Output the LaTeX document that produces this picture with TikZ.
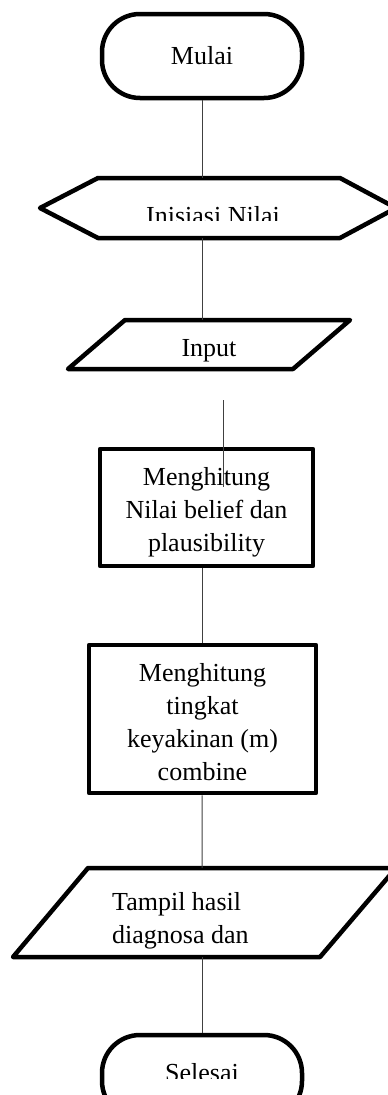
\documentclass[tikz,border=0pt]{standalone}
\usepackage{fontspec}
\setmainfont{Liberation Serif}
\usetikzlibrary{positioning}

\begin{document}
\begin{tikzpicture}[x=1pt,y=-1pt,
  term/.style={rectangle,rounded corners=38pt,draw,line width=4.5pt,minimum width=200pt,minimum height=84pt,inner sep=0pt,font=\fontsize{26}{33}\selectfont},
  proc/.style={rectangle,draw,line width=4.5pt,line join=round,align=center,inner sep=0pt,font=\fontsize{26}{33}\selectfont},
  iobox/.style={draw,line width=4.5pt,line join=round},
  txt/.style={inner sep=0pt,font=\fontsize{26}{33}\selectfont},
  link/.style={draw=black!75,line width=1pt}
]
\useasboundingbox (0,0) rectangle (388,1095);

% start
\node[term] (mulai) at (202,56) {Mulai};

% preparation
\draw[iobox] (40,208) -- (98,178) -- (340,178) -- (396,208) -- (340,238) -- (98,238) -- cycle;
\coordinate (init-n) at (202,178);
\coordinate (init-s) at (202,238);
\begin{scope}
  \clip (0,0) rectangle (388,220);
  \node[txt,anchor=base] (init) at (213,224) {Inisiasi Nilai};
\end{scope}

% input
\draw[iobox] (125,320) -- (350,320) -- (293,369) -- (68,369) -- cycle;
\coordinate (input-n) at (202,320);
\node[txt,anchor=base] (input) at (209,356) {Input};

% process
\coordinate (stub-a) at (223,400);
\coordinate (stub-b) at (223,487);
\node[proc,minimum width=213pt,minimum height=117pt] (belief) at (206.5,507.5) {\rule{0pt}{28pt}Menghitung\\Nilai belief dan\\plausibility};
\node[proc,minimum width=227pt,minimum height=148pt] (combine) at (202.5,719) {\rule{0pt}{25pt}Menghitung\\tingkat\\keyakinan (m)\\combine};

% output
\draw[iobox] (88,868) -- (396,868) -- (320,957) -- (13,957) -- cycle;
\coordinate (hasil-n) at (202,868);
\coordinate (hasil-s) at (202,957);
\node[txt,align=left,anchor=north west] (hasil) at (112,892) {Tampil hasil\\diagnosa dan};

% end
\node[term] (selesai) at (202,1077) {};
\begin{scope}
  \clip (0,0) rectangle (388,1078);
  \node[txt,anchor=base] (selesai-txt) at (202,1081) {Selesai};
\end{scope}

\draw[link] (mulai) -- (init-n);
\draw[link] (init-s) -- (input-n);
\draw[link] (stub-a) -- (stub-b);
\draw[link] (belief.south -| combine.north) -- (combine);
\draw[link] (combine) -- (hasil-n);
\draw[link] (hasil-s) -- (selesai);
\end{tikzpicture}
\end{document}
